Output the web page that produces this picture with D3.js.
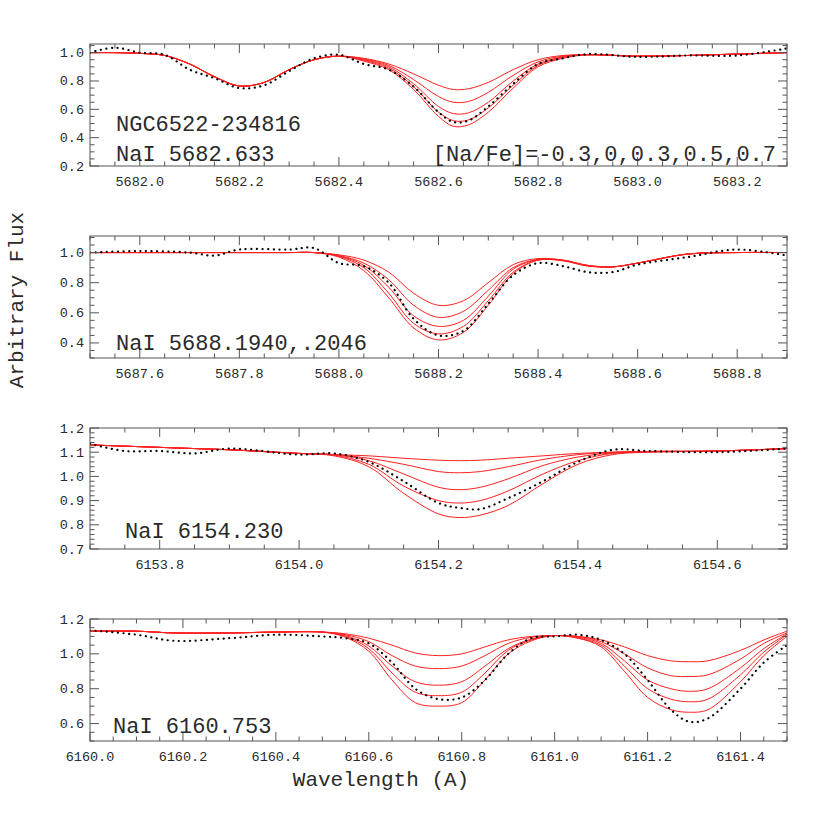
<!DOCTYPE html>
<html>
<head>
<meta charset="utf-8">
<script src="https://cdn.jsdelivr.net/npm/d3@7"></script>
<style>
  body { margin: 0; background: #fff; }
  text { font-family: "Courier New", "Liberation Mono", "DejaVu Serif", serif; fill: #2a2a2a; }
</style>
</head>
<body>
<svg id="chart" width="830" height="830"></svg>
<script>
// ---- panel 1: NaI 5682.633 ----
var wave1 = [5681.9, 5681.95, 5682.0, 5682.05, 5682.1, 5682.15, 5682.2, 5682.25, 5682.3, 5682.35, 5682.4,
  5682.45, 5682.5, 5682.55, 5682.6, 5682.63, 5682.66, 5682.7, 5682.75, 5682.8, 5682.85, 5682.9, 5683.0, 5683.1, 5683.2, 5683.3];
var synth1 = [
  [1.0,1.0,0.995,0.98,0.92,0.83,0.765,0.79,0.88,0.95,0.975, 0.96,0.92,0.85,0.77,0.74,0.745,0.79,0.88,0.95,0.98,0.985,0.975,0.98,0.99,1.0],
  [1.0,1.0,0.995,0.98,0.92,0.83,0.765,0.79,0.88,0.95,0.975, 0.955,0.91,0.81,0.69,0.65,0.655,0.72,0.84,0.935,0.975,0.985,0.975,0.98,0.99,1.0],
  [1.0,1.0,0.995,0.98,0.92,0.83,0.765,0.79,0.88,0.95,0.975, 0.95,0.90,0.78,0.62,0.57,0.575,0.65,0.80,0.92,0.97,0.985,0.975,0.98,0.99,1.0],
  [1.0,1.0,0.995,0.98,0.92,0.83,0.765,0.79,0.88,0.95,0.975, 0.945,0.89,0.76,0.58,0.52,0.525,0.61,0.77,0.91,0.965,0.985,0.975,0.98,0.99,1.0],
  [1.0,1.0,0.995,0.98,0.92,0.83,0.765,0.79,0.88,0.95,0.975, 0.94,0.88,0.74,0.55,0.48,0.49,0.58,0.75,0.90,0.96,0.985,0.975,0.98,0.99,1.0]
];
var obs1 = [1.0,1.035,1.0,0.985,0.88,0.82,0.75,0.77,0.87,0.96,0.985, 0.92,0.88,0.76,0.58,0.51,0.52,0.62,0.78,0.92,0.96,0.99,0.97,0.98,0.98,1.03];

// ---- panel 2: NaI 5688.1940,.2046 ----
var wave2 = [5687.5, 5687.6, 5687.7, 5687.75, 5687.8, 5687.9, 5687.95, 5688.0, 5688.05, 5688.1, 5688.15, 5688.2, 5688.25,
  5688.3, 5688.35, 5688.4, 5688.45, 5688.5, 5688.55, 5688.6, 5688.7, 5688.8, 5688.9];
var synth2 = [
  [1,1,1,1,1,1,1, 0.985,0.95,0.87,0.73,0.65,0.68,0.80,0.92,0.96,0.95,0.915,0.905,0.93,0.99,1.0,1.0],
  [1,1,1,1,1,1,1, 0.98,0.93,0.82,0.65,0.57,0.61,0.75,0.90,0.955,0.95,0.915,0.905,0.93,0.99,1.0,1.0],
  [1,1,1,1,1,1,1, 0.978,0.915,0.77,0.58,0.51,0.55,0.71,0.89,0.952,0.948,0.913,0.905,0.93,0.99,1.0,1.0],
  [1,1,1,1,1,1,1, 0.975,0.90,0.73,0.53,0.46,0.51,0.68,0.87,0.95,0.947,0.912,0.905,0.93,0.99,1.0,1.0],
  [1,1,1,1,1,1,1, 0.97,0.88,0.70,0.50,0.42,0.47,0.65,0.86,0.95,0.945,0.91,0.905,0.93,0.99,1.0,1.0]
];
var obs2 = [1.0,1.01,1.0,0.98,1.02,1.02,1.03, 0.93,0.91,0.80,0.56,0.45,0.48,0.66,0.85,0.93,0.91,0.87,0.87,0.92,0.97,1.02,0.98];

// ---- panel 3: NaI 6154.230 ----
var wave3 = [6153.7, 6153.75, 6153.8, 6153.85, 6153.9, 6154.0, 6154.05, 6154.1, 6154.15, 6154.2, 6154.23, 6154.26,
  6154.3, 6154.35, 6154.4, 6154.45, 6154.5, 6154.6, 6154.7];
var synth3 = [
  [1.13,1.125,1.12,1.115,1.11,1.095, 1.09,1.085,1.075,1.067,1.065,1.067,1.075,1.085,1.095,1.1,1.103,1.105,1.115],
  [1.13,1.125,1.12,1.115,1.11,1.095, 1.09,1.075,1.05,1.02,1.015,1.02,1.04,1.07,1.09,1.1,1.103,1.105,1.115],
  [1.13,1.125,1.12,1.115,1.11,1.095, 1.09,1.065,1.01,0.955,0.945,0.955,0.99,1.045,1.08,1.097,1.103,1.105,1.115],
  [1.13,1.125,1.12,1.115,1.11,1.095, 1.088,1.05,0.96,0.90,0.89,0.90,0.94,1.01,1.065,1.095,1.10,1.105,1.115],
  [1.13,1.125,1.12,1.115,1.11,1.095, 1.085,1.04,0.93,0.845,0.83,0.84,0.88,0.97,1.05,1.09,1.10,1.105,1.115]
];
var obs3 = [1.135,1.105,1.105,1.095,1.115,1.09, 1.095,1.06,0.98,0.89,0.87,0.865,0.91,0.98,1.06,1.11,1.105,1.1,1.115];

// ---- panel 4: NaI 6160.753 ----
var wave4 = [6160.0, 6160.1, 6160.18, 6160.3, 6160.4, 6160.5, 6160.55, 6160.6, 6160.65, 6160.7, 6160.75, 6160.8, 6160.85,
  6160.9, 6160.95, 6161.0, 6161.05, 6161.1, 6161.15, 6161.2, 6161.25, 6161.29, 6161.33, 6161.4, 6161.45, 6161.5];
var synth4 = [
  [1.13,1.13,1.12,1.12,1.125,1.125, 1.115,1.09,1.05,1.005,0.99,1.0,1.04,1.08,1.1,1.105,1.1,1.08,1.04,0.99,0.96,0.955,0.96,1.02,1.08,1.13],
  [1.13,1.13,1.12,1.12,1.125,1.125, 1.11,1.07,0.99,0.93,0.915,0.93,0.99,1.06,1.095,1.105,1.1,1.07,1.0,0.92,0.875,0.87,0.88,0.97,1.06,1.12],
  [1.13,1.13,1.12,1.12,1.125,1.125, 1.105,1.045,0.93,0.84,0.82,0.84,0.93,1.03,1.085,1.105,1.095,1.06,0.96,0.85,0.80,0.785,0.80,0.92,1.03,1.115],
  [1.13,1.13,1.12,1.12,1.125,1.125, 1.10,1.03,0.89,0.78,0.76,0.78,0.89,1.02,1.08,1.105,1.09,1.05,0.93,0.80,0.74,0.725,0.74,0.88,1.01,1.11],
  [1.13,1.13,1.12,1.12,1.125,1.125, 1.095,1.015,0.85,0.72,0.70,0.72,0.85,1.0,1.075,1.105,1.09,1.04,0.90,0.75,0.68,0.665,0.68,0.84,0.99,1.10]
];
var obs4 = [1.135,1.11,1.075,1.09,1.11,1.10, 1.09,1.06,0.95,0.80,0.74,0.75,0.85,1.0,1.09,1.10,1.11,1.08,1.0,0.85,0.68,0.61,0.63,0.80,0.95,1.05];

var panels = [
  {wave: wave1, synth: synth1, obs: obs1, xd: [5681.9, 5683.3], yd: [0.2, 1.061], top: 44, bot: 166,
   xMaj: 0.2, xMin: 0.05, yMaj: 0.2, yMin: 0.05,
   labels: [{t: "NGC6522-234816", x: 116, y: 131}, {t: "NaI 5682.633", x: 116, y: 161},
            {t: "[Na/Fe]=-0.3,0,0.3,0.5,0.7", x: 776, y: 161, anchor: "end"}]},
  {wave: wave2, synth: synth2, obs: obs2, xd: [5687.5, 5688.9], yd: [0.3, 1.11], top: 236, bot: 358,
   xMaj: 0.2, xMin: 0.05, yMaj: 0.2, yMin: 0.05,
   labels: [{t: "NaI 5688.1940,.2046", x: 116, y: 350}]},
  {wave: wave3, synth: synth3, obs: obs3, xd: [6153.7, 6154.7], yd: [0.7, 1.2], top: 428, bot: 549,
   xMaj: 0.2, xMin: 0.05, yMaj: 0.1, yMin: 0.02,
   labels: [{t: "NaI 6154.230", x: 125, y: 538}]},
  {wave: wave4, synth: synth4, obs: obs4, xd: [6160.0, 6161.5], yd: [0.5, 1.2], top: 619, bot: 741,
   xMaj: 0.2, xMin: 0.05, yMaj: 0.2, yMin: 0.05,
   labels: [{t: "NaI 6160.753", x: 113, y: 733}]}
];

var svg = d3.select("#chart");
var left = 90, right = 787;

function ticksBetween(d, step) {
  var out = [], s = Math.ceil(d[0] / step - 1e-6);
  for (var v = s * step; v <= d[1] + 1e-9; v = (++s) * step) out.push(+v.toFixed(4));
  return out;
}

panels.forEach(function(p, i) {
  var x = d3.scaleLinear().domain(p.xd).range([left, right]);
  var y = d3.scaleLinear().domain(p.yd).range([p.bot, p.top]);
  var g = svg.append("g");
  var clipId = "clip" + i;
  svg.append("clipPath").attr("id", clipId).append("rect")
    .attr("x", left).attr("y", p.top).attr("width", right - left).attr("height", p.bot - p.top);

  var line = d3.line().curve(d3.curveCatmullRom.alpha(0.5))
    .x(function(d) { return x(d[0]); })
    .y(function(d) { return y(d[1]); });

  var plot = g.append("g").attr("clip-path", "url(#" + clipId + ")");
  p.synth.forEach(function(s) {
    plot.append("path")
      .attr("d", line(p.wave.map(function(w, k) { return [w, s[k]]; })))
      .attr("fill", "none").attr("stroke", "#ff2020").attr("stroke-width", 1);
  });
  plot.append("path")
    .attr("d", line(p.wave.map(function(w, k) { return [w, p.obs[k]]; })))
    .attr("fill", "none").attr("stroke", "#000").attr("stroke-width", 2.2)
    .attr("stroke-linecap", "round").attr("stroke-dasharray", "0.1,5.5");

  // frame
  g.append("rect").attr("x", left).attr("y", p.top).attr("width", right - left).attr("height", p.bot - p.top)
    .attr("fill", "none").attr("stroke", "#555").attr("stroke-width", 1);

  // ticks, all four sides, inward
  var tk = g.append("g").attr("stroke", "#555").attr("stroke-width", 1);
  ticksBetween(p.xd, p.xMin).forEach(function(v) {
    var major = Math.abs(v / p.xMaj - Math.round(v / p.xMaj)) < 1e-4;
    var L = major ? 9 : 4.5;
    tk.append("line").attr("x1", x(v)).attr("x2", x(v)).attr("y1", p.bot).attr("y2", p.bot - L);
    tk.append("line").attr("x1", x(v)).attr("x2", x(v)).attr("y1", p.top).attr("y2", p.top + L);
  });
  ticksBetween(p.yd, p.yMin).forEach(function(v) {
    var major = Math.abs(v / p.yMaj - Math.round(v / p.yMaj)) < 1e-4;
    var L = major ? 9 : 4.5;
    tk.append("line").attr("y1", y(v)).attr("y2", y(v)).attr("x1", left).attr("x2", left + L);
    tk.append("line").attr("y1", y(v)).attr("y2", y(v)).attr("x1", right).attr("x2", right - L);
  });

  ticksBetween(p.xd, p.xMaj).forEach(function(v) {
    if (Math.abs(x(v) - left) < 1 && i < 3) return;
    if (Math.abs(x(v) - right) < 1) return;
    g.append("text").attr("x", x(v)).attr("y", p.bot + 20).attr("text-anchor", "middle")
      .style("font-size", "13.5px").text(d3.format(".1f")(v));
  });
  ticksBetween(p.yd, p.yMaj).forEach(function(v) {
    g.append("text").attr("x", 84).attr("y", y(v) + 4.5).attr("text-anchor", "end")
      .style("font-size", "13.5px").text(d3.format(".1f")(v));
  });

  p.labels.forEach(function(l) {
    g.append("text").attr("x", l.x).attr("y", l.y).attr("text-anchor", l.anchor || "start")
      .style("font-size", "22px").text(l.t);
  });
});

svg.append("text").attr("x", 381).attr("y", 786).attr("text-anchor", "middle")
  .style("font-size", "21px").text("Wavelength (A)");
svg.append("text").attr("transform", "translate(23,300) rotate(-90)").attr("text-anchor", "middle")
  .style("font-size", "21px").text("Arbitrary Flux");
</script>
</body>
</html>
